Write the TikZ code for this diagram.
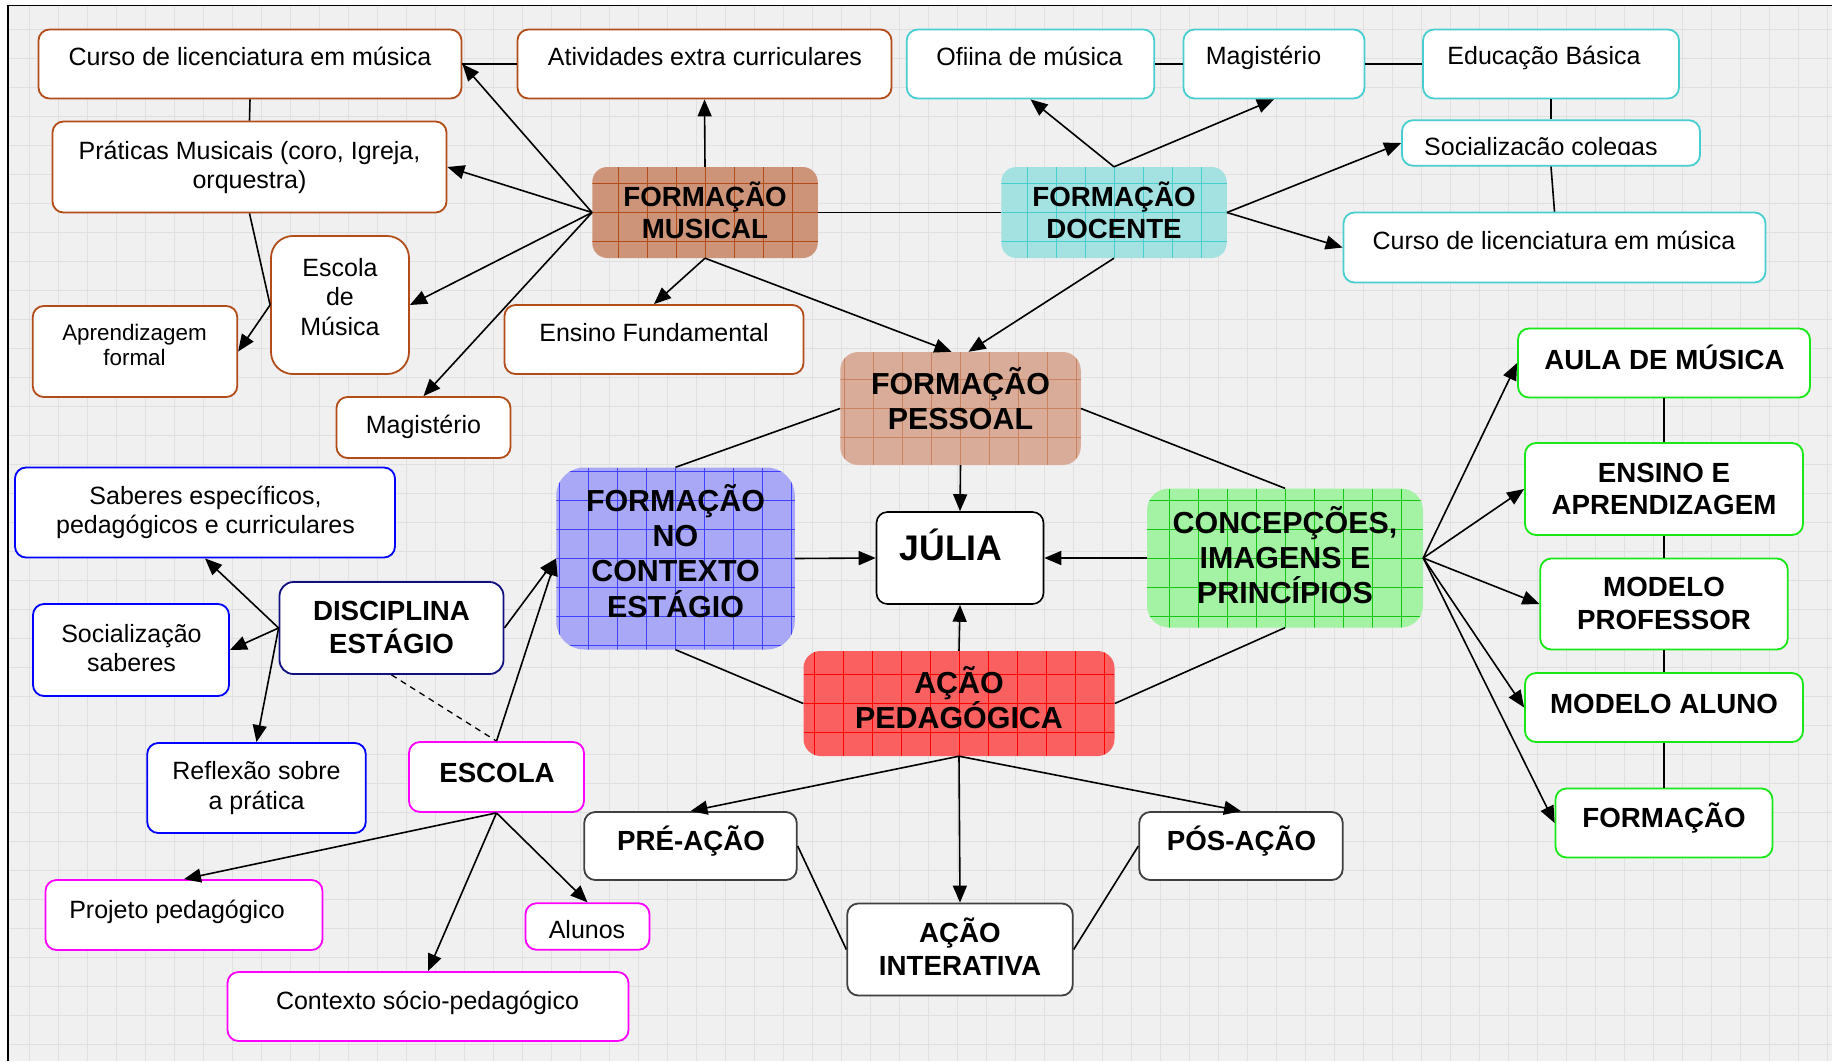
\documentclass[tikz,border=0pt]{standalone}
\usepackage{fontspec}
\setmainfont{Liberation Sans}
\usepackage{xcolor}
\definecolor{mapbg}{RGB}{240,240,240}
\definecolor{mapgrid}{RGB}{224,224,224}
\definecolor{mbrown}{RGB}{178,76,24}
\definecolor{mcyan}{RGB}{72,206,206}
\definecolor{mblue}{RGB}{0,0,255}
\definecolor{mnavy}{RGB}{16,16,128}
\definecolor{mmag}{RGB}{255,0,255}
\definecolor{mgreen}{RGB}{24,232,24}
\definecolor{mgray}{RGB}{64,64,64}
\definecolor{fbrown}{RGB}{206,148,122}
\definecolor{fbrownl}{RGB}{216,172,152}
\definecolor{fcyan}{RGB}{164,226,226}
\definecolor{fblue}{RGB}{168,168,246}
\definecolor{fgreen}{RGB}{164,242,164}
\definecolor{fred}{RGB}{250,96,96}
\usepackage{tikz}
\usetikzlibrary{arrows.meta}

\begin{document}
\begin{tikzpicture}[x=1pt, y=-1pt,
    box/.style={draw=#1, fill=white, line width=1.8pt, rounded corners=11pt, inner sep=0pt},
    cbox/.style 2 args={fill=#1, rounded corners=15pt, inner sep=0pt,
      path picture={\draw[#2, line width=0.8pt, step=29pt] (path picture bounding box.south west) grid (path picture bounding box.north east);}},
    txt/.style={font=\fontsize{25}{29.2}\selectfont, align=center, inner sep=0pt},
    btxt/.style={font=\fontsize{27.7}{32.5}\selectfont\bfseries, align=center, inner sep=0pt},
    bigtxt/.style={font=\fontsize{30.4}{35.2}\selectfont\bfseries, align=center, inner sep=0pt},
    ln/.style={line width=1.6pt},
    arr/.style={-{Triangle[length=17pt,width=14pt]}, line width=1.6pt}]
  \useasboundingbox (0,0) rectangle (1832,1061);
  % background sheet with grid
  \fill[white] (0,0) rectangle (1832,1061);
  \fill[mapbg] (8,5.5) rectangle (1832,1061);
  \draw[mapgrid, line width=0.8pt, step=29pt] (8,5.5) grid (1832,1061);
  \draw[line width=1.2pt] (8,1061) -- (8,5.5) -- (1832,5.5);

  % Formacao musical -- brown boxes
  \node[box=mbrown, minimum width=423pt, minimum height=69pt] (cursoM) at (250,64) {};
  \node[txt] (t-cursoM) at (250,56) {Curso de licenciatura em música};
  \node[box=mbrown, minimum width=374pt, minimum height=69pt] (ativ) at (704.5,64) {};
  \node[txt] (t-ativ) at (705,57) {Atividades extra curriculares};
  \node[box=mbrown, minimum width=394pt, minimum height=91pt] (prat) at (249.5,167) {};
  \node[txt] (t-prat) at (249.5,167) {Práticas Musicais (coro, Igreja,\\orquestra)};
  \node[box=mbrown, minimum width=138pt, minimum height=138pt, rounded corners=22pt] (escM) at (340,305) {};
  \node[txt] (t-escM) at (340,297) {Escola\\de\\Música};
  \node[box=mbrown, minimum width=204.5pt, minimum height=91pt] (aprend) at (135,351.5) {};
  \node[txt, font=\fontsize{22.4}{25.7}\selectfont] (t-aprend) at (134.5,345) {Aprendizagem\\formal};
  \node[box=mbrown, minimum width=299pt, minimum height=69pt] (ensF) at (654,339.5) {};
  \node[txt] (t-ensF) at (654,333) {Ensino Fundamental};
  \node[box=mbrown, minimum width=174pt, minimum height=61pt] (magM) at (423.5,427.5) {};
  \node[txt] (t-magM) at (423.5,426.5) {Magistério};

  % Formacao docente -- cyan boxes
  \node[box=mcyan, minimum width=247.5pt, minimum height=69pt] (ofic) at (1030.5,64) {};
  \node[txt] (t-ofic) at (1029.5,56) {Ofiina de música};
  \node[box=mcyan, minimum width=181pt, minimum height=69pt] (magD) at (1274,64) {};
  \node[txt] (t-magD) at (1263.5,58) {Magistério};
  \node[box=mcyan, minimum width=256pt, minimum height=69pt] (educ) at (1551,64) {};
  \node[txt] (t-educ) at (1544,58) {Educação Básica};
  \node[box=mcyan, minimum width=298pt, minimum height=45.5pt] (socC) at (1551,143) {};
  \begin{scope}
    \clip (1402,120) rectangle (1700,154.5);
    \node[txt, anchor=base west] (t-socC) at (1424,155.5) {Socialização colegas};
  \end{scope}
  \node[box=mcyan, minimum width=422pt, minimum height=70pt] (cursoC) at (1554.5,247.5) {};
  \node[txt] (t-cursoC) at (1554,240.5) {Curso de licenciatura em música};

  % central filled boxes
  \node[cbox={fbrown}{mbrown}, minimum width=225.5pt, minimum height=91pt] (fmus) at (705,212.5) {};
  \node[btxt] (t-fmus) at (705,210.5) {FORMAÇÃO\\MUSICAL};
  \node[cbox={fcyan}{mcyan}, minimum width=225.5pt, minimum height=91pt] (fdoc) at (1114,212.5) {};
  \node[btxt] (t-fdoc) at (1114,210.5) {FORMAÇÃO\\DOCENTE};
  \node[cbox={fbrownl}{mbrown!70}, minimum width=240.5pt, minimum height=113pt, rounded corners=18pt] (fpes) at (960.5,408.5) {};
  \node[bigtxt] (t-fpes) at (960.5,398.5) {FORMAÇÃO\\PESSOAL};
  \node[cbox={fblue}{mblue!75}, minimum width=238.5pt, minimum height=182pt, rounded corners=28pt] (fnc) at (675.5,558.5) {};
  \node[bigtxt] (t-fnc) at (675.5,551) {FORMAÇÃO\\NO\\CONTEXTO\\ESTÁGIO};
  \node[cbox={fgreen}{mgreen!85!black}, minimum width=276pt, minimum height=139pt, rounded corners=22pt] (conc) at (1285,558) {};
  \node[bigtxt] (t-conc) at (1285,555) {CONCEPÇÕES,\\IMAGENS E\\PRINCÍPIOS};
  \node[cbox={fred}{red}, minimum width=311pt, minimum height=105pt, rounded corners=17pt] (acao) at (959,703.5) {};
  \node[bigtxt] (t-acao) at (959,697.5) {AÇÃO\\PEDAGÓGICA};
  \node[box=black, minimum width=167pt, minimum height=92pt, line width=1.6pt] (julia) at (960,558) {};
  \node[btxt, font=\fontsize{35.6}{40}\selectfont\bfseries] (t-julia) at (951,544.5) {JÚLIA};

  % Disciplina estagio -- blue boxes
  \node[box=mblue, minimum width=380pt, minimum height=90pt] (sab) at (205,512.5) {};
  \node[txt] (t-sab) at (205.5,512.5) {Saberes específicos,\\pedagógicos e curriculares};
  \node[box=mnavy, minimum width=224pt, minimum height=92pt, rounded corners=14pt] (disc) at (391.5,628) {};
  \node[btxt] (t-disc) at (391.5,627.5) {DISCIPLINA\\ESTÁGIO};
  \node[box=mblue, minimum width=196pt, minimum height=92pt] (socS) at (131,650) {};
  \node[txt] (t-socS) at (131.5,648) {Socialização\\saberes};
  \node[box=mblue, minimum width=218.5pt, minimum height=90pt] (refl) at (256.5,788) {};
  \node[txt] (t-refl) at (256.5,788) {Reflexão sobre\\a prática};

  % Escola -- magenta boxes
  \node[box=mmag, minimum width=175pt, minimum height=70pt] (escola) at (496.5,777) {};
  \node[btxt] (t-escola) at (497,772.5) {ESCOLA};
  \node[box=mmag, minimum width=277pt, minimum height=70pt] (proj) at (184,915) {};
  \node[txt] (t-proj) at (177,911.5) {Projeto pedagógico};
  \node[box=mmag, minimum width=124pt, minimum height=46.5pt] (alunos) at (587.5,926.5) {};
  \node[txt] (t-alunos) at (587,930) {Alunos};
  \node[box=mmag, minimum width=401pt, minimum height=69pt] (ctx) at (428,1006.5) {};
  \node[txt] (t-ctx) at (427.5,1002.5) {Contexto sócio-pedagógico};

  % Acao -- gray boxes
  \node[box=mgray, minimum width=212.5pt, minimum height=68pt] (pre) at (690.5,846) {};
  \node[btxt] (t-pre) at (691,841) {PRÉ-AÇÃO};
  \node[box=mgray, minimum width=203.5pt, minimum height=68pt] (pos) at (1241,846) {};
  \node[btxt] (t-pos) at (1241.5,841) {PÓS-AÇÃO};
  \node[box=mgray, minimum width=225.5pt, minimum height=92pt] (inter) at (960,949.5) {};
  \node[btxt] (t-inter) at (960,946.5) {AÇÃO\\INTERATIVA};

  % Concepcoes -- green boxes
  \node[box=mgreen, minimum width=292pt, minimum height=69pt] (aula) at (1664,363) {};
  \node[btxt] (t-aula) at (1664.5,357.5) {AULA DE MÚSICA};
  \node[box=mgreen, minimum width=278pt, minimum height=92pt] (ensA) at (1664,489) {};
  \node[btxt] (t-ensA) at (1664,489) {ENSINO E\\APRENDIZAGEM};
  \node[box=mgreen, minimum width=247.5pt, minimum height=91pt] (modP) at (1664,604) {};
  \node[btxt] (t-modP) at (1664,603.5) {MODELO\\PROFESSOR};
  \node[box=mgreen, minimum width=278pt, minimum height=69pt] (modA) at (1664,707.5) {};
  \node[btxt] (t-modA) at (1664,703.5) {MODELO ALUNO};
  \node[box=mgreen, minimum width=217pt, minimum height=69pt] (formA) at (1664,823) {};
  \node[btxt] (t-formA) at (1664,818) {FORMAÇÃO};

  % plain links
  \draw[ln] (cursoM.east) -- (ativ.west);
  \draw[ln] (cursoM.south) -- (prat.north);
  \draw[ln] (prat.south) -- (escM.west);
  \draw[ln] (fmus.east) -- (fdoc.west);
  \draw[ln] (ofic.east) -- (magD.west);
  \draw[ln] (magD.east) -- (educ.west);
  \draw[ln] (educ.south) -- (socC.north);
  \draw[ln] (socC.south) -- (cursoC.north);
  \draw[ln] (fpes.west) -- (fnc.north);
  \draw[ln] (fpes.east) -- (conc.north);
  \draw[ln] (fnc.south) -- (acao.west);
  \draw[ln] (conc.south) -- (acao.east);
  \draw[ln] (pre.east) -- (inter.west);
  \draw[ln] (pos.west) -- (inter.east);
  \draw[ln] (aula.south) -- (ensA.north);
  \draw[ln] (ensA.south) -- (modP.north);
  \draw[ln] (modP.south) -- (modA.north);
  \draw[ln] (modA.south) -- (formA.north);
  \draw[ln, dashed, line width=1.3pt, dash pattern=on 6pt off 5pt] (disc.south) -- (escola.north);

  % arrows
  \draw[arr] (escM.west) -- (aprend.east);
  \draw[arr] (fmus.west) -- (cursoM.east);
  \draw[arr] (fmus.west) -- (prat.east);
  \draw[arr] (fmus.west) -- (escM.east);
  \draw[arr] (fmus.west) -- (magM.north);
  \draw[arr] (fmus.north) -- (ativ.south);
  \draw[arr] (fmus.south) -- (ensF.north);
  \draw[arr] (fmus.south) -- ([xshift=-9pt]fpes.north);
  \draw[arr] (fdoc.north) -- (ofic.south);
  \draw[arr] (fdoc.north) -- (magD.south);
  \draw[arr] (fdoc.east) -- (socC.west);
  \draw[arr] (fdoc.east) -- (cursoC.west);
  \draw[arr] (fdoc.south) -- ([xshift=8pt]fpes.north);
  \draw[arr] (fpes.south) -- (julia.north);
  \draw[arr] (fnc.east) -- (julia.west);
  \draw[arr] (conc.west) -- (julia.east);
  \draw[arr] (acao.north) -- (julia.south);
  \draw[arr] (acao.south) -- (pre.north);
  \draw[arr] (acao.south) -- (inter.north);
  \draw[arr] (acao.south) -- (pos.north);
  \draw[arr] (conc.east) -- (aula.west);
  \draw[arr] (conc.east) -- (ensA.west);
  \draw[arr] (conc.east) -- (modP.west);
  \draw[arr] (conc.east) -- (modA.west);
  \draw[arr] (conc.east) -- (formA.west);
  \draw[arr] (disc.west) -- (sab.south);
  \draw[arr] (disc.west) -- (socS.east);
  \draw[arr] (disc.west) -- (refl.north);
  \draw[arr] (disc.east) -- (fnc.west);
  \draw[arr] (escola.north) -- (fnc.west);
  \draw[arr] (escola.south) -- (proj.north);
  \draw[arr] (escola.south) -- (ctx.north);
  \draw[arr] (escola.south) -- (alunos.north);
\end{tikzpicture}
\end{document}
